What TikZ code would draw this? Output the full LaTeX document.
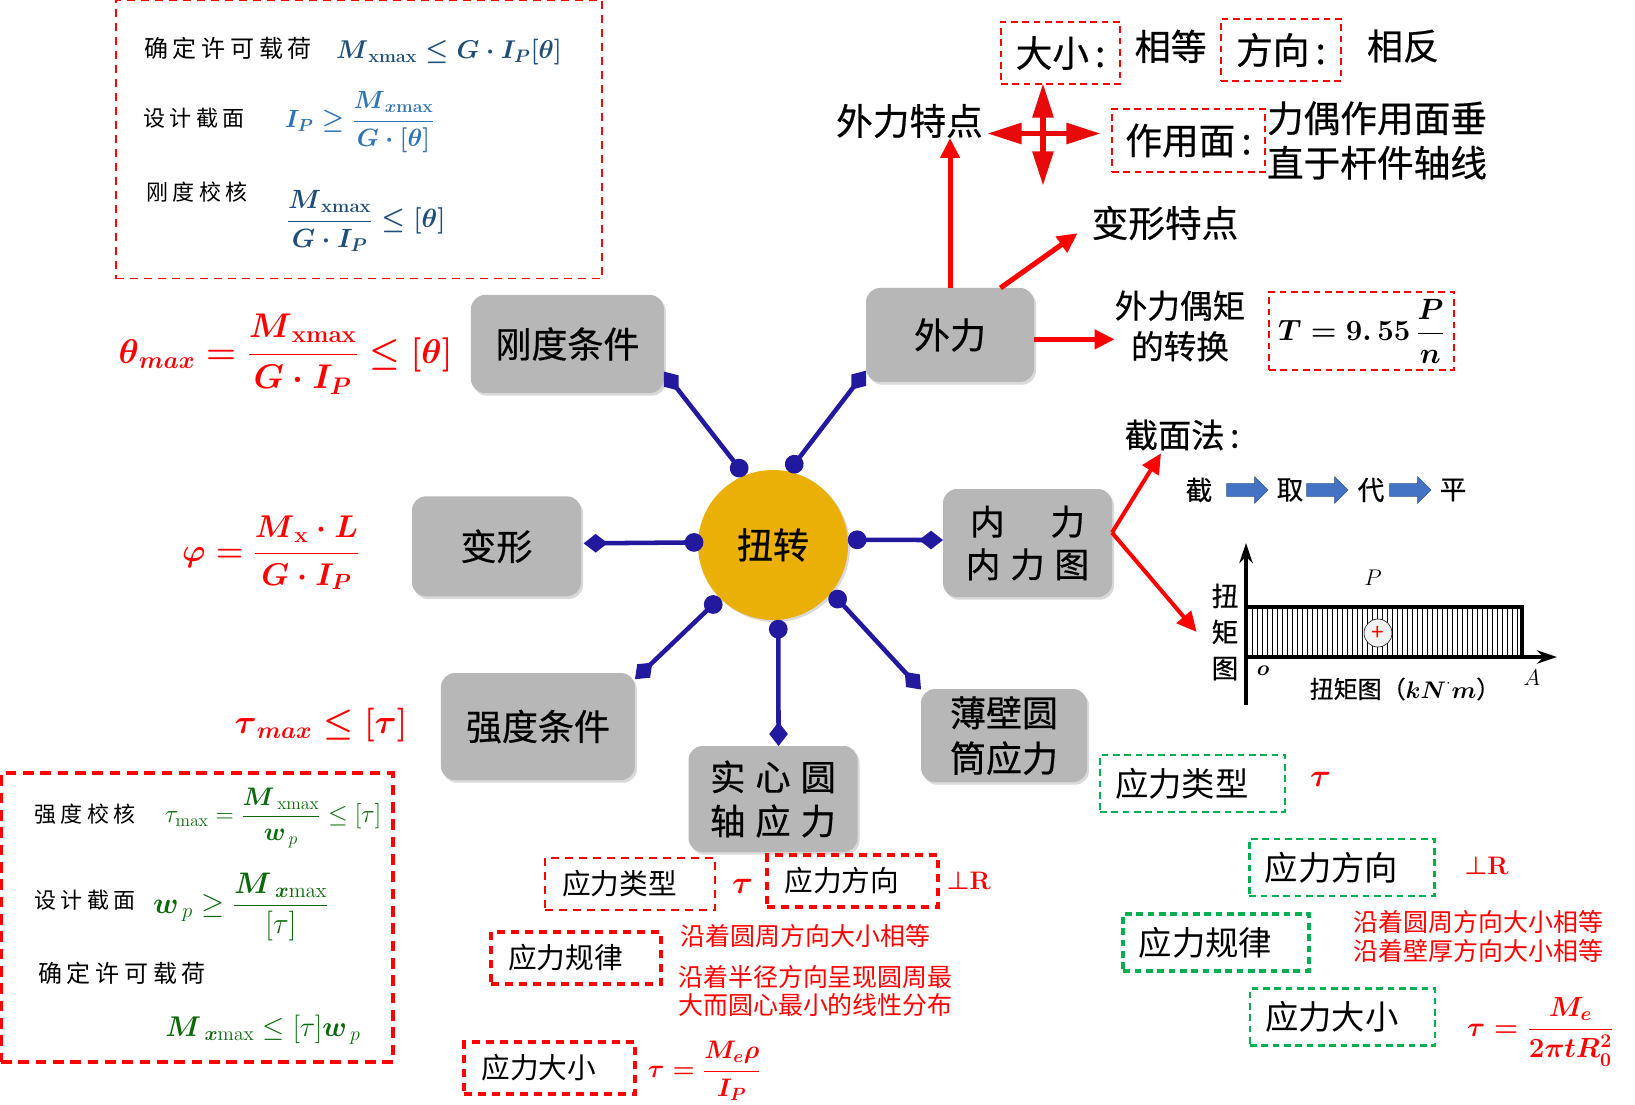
\documentclass[tikz,border=0pt]{standalone}
\usepackage{fix-cm}
\usepackage{amsmath}
\usepackage[no-math]{fontspec}
\setmainfont{Noto Sans CJK SC}
\newfontfamily\heavycjk[FakeBold=0.5]{Noto Sans CJK SC}
\newfontfamily\widecjk[LetterSpace=20]{Noto Sans CJK SC}
\newfontfamily\widerbox[LetterSpace=28,FakeBold=0.5]{Noto Sans CJK SC}
\usepackage{xcolor}
\usetikzlibrary{shapes.arrows, arrows.meta, positioning, calc, shadows}
\definecolor{hubgold}{RGB}{234,176,8}
\definecolor{boxgray}{RGB}{183,183,183}
\definecolor{spokeblue}{RGB}{35,25,158}
\definecolor{topblue}{RGB}{31,78,121}
\definecolor{midblue}{RGB}{46,117,182}
\definecolor{formgreen}{RGB}{10,105,10}
\definecolor{dashgreen}{RGB}{0,176,80}
\definecolor{crossred}{RGB}{232,10,10}
\definecolor{tipblue}{RGB}{68,114,196}
\definecolor{tipedge}{RGB}{47,82,143}
\newcommand{\bv}[1]{\boldsymbol{#1}}
\newcommand{\xmax}{\mathrm{xmax}}
\newcommand{\heavyfont}[2]{\fontsize{#1}{#2}\selectfont\heavycjk}
\newcommand{\mathfont}[1]{\fontsize{#1}{30}\selectfont\boldmath}
\newcommand{\lpad}{\hspace*{16pt}}
\tikzset{
  hubnode/.style={circle, fill=hubgold, minimum size=112.5pt, inner sep=0pt, outer sep=0pt,
    font=\heavyfont{27}{32}, drop shadow={shadow xshift=1.5pt, shadow yshift=-1.5pt, opacity=0.3}},
  mainbox/.style={rectangle, fill=boxgray, rounded corners=10.5pt, inner sep=0pt, outer sep=0pt,
    align=center, font=\heavyfont{27}{33}, drop shadow={shadow xshift=1.5pt, shadow yshift=-2pt, opacity=0.3}},
  spoke/.style={{Circle[length=14pt,width=14pt]}-{Diamond[length=18pt,width=14pt]}, line width=3.4pt, color=spokeblue},
  redarrow/.style={-{Triangle[length=15pt,width=14pt]}, line width=3.8pt, color=red},
  crossarrow/.style={{Triangle[length=26pt,width=15pt]}-{Triangle[length=26pt,width=15pt]}, line width=4.4pt, color=crossred},
  redbox/.style={rectangle, draw=red, dash pattern=on 6pt off 4.5pt, line width=2pt, inner sep=0pt, outer sep=0pt,
    font=\fontsize{21.5}{26}\selectfont},
  thinbox/.style={redbox, line width=1.5pt, dash pattern=on 5pt off 3.5pt, font=\heavyfont{27.5}{34}},
  greenbox/.style={rectangle, draw=dashgreen, dash pattern=on 5pt off 3.5pt, line width=1.8pt, inner sep=0pt, outer sep=0pt,
    minimum width=139pt, minimum height=42.75pt, font=\fontsize{25}{30}\selectfont},
  label/.style={inner sep=0pt, outer sep=0pt, align=center, font=\heavyfont{27.5}{34}},
  smalllabel/.style={label, font=\fontsize{18}{21.5}\selectfont\widecjk},
  redtext/.style={label, text=red, font=\fontsize{18.7}{21.7}\selectfont},
  redmath/.style={label, text=red, font=\mathfont{22}},
  blockarrow/.style={single arrow, draw=tipedge, fill=tipblue, minimum width=20pt, minimum height=31pt,
    single arrow head extend=5pt, single arrow head indent=0pt, inner xsep=0pt, inner ysep=4.5pt, outer sep=0pt}
}
\begin{document}
\begin{tikzpicture}[x=0.75pt, y=-0.75pt]
  \useasboundingbox (0,0) rectangle (1635,1104);

  \node[hubnode] (hub) at (773,545) {扭转};
  \node[mainbox, minimum width=144.75pt, minimum height=73.5pt, above left=74.25pt and 42pt of hub] (stiff) {刚度条件};
  \node[mainbox, minimum width=126pt, minimum height=70.5pt, above right=82.5pt and 30pt of hub] (force) {外力};
  \node[mainbox, minimum width=126.75pt, minimum height=75pt, left=87.75pt of hub, yshift=-1pt] (deform) {变形};
  \node[mainbox, minimum width=126.75pt, minimum height=81pt, right=71.25pt of hub, yshift=1.5pt, font=\fontsize{26}{32}\selectfont\widerbox] (inner) {内\hspace{1.32em}力\\内力图};
  \node[mainbox, minimum width=145.5pt, minimum height=80.25pt, below left=56.25pt and 63.75pt of hub] (strength) {强度条件};
  \node[mainbox, minimum width=126.75pt, minimum height=79.5pt, below=94.5pt of hub, font=\fontsize{26.5}{33}\selectfont\widerbox] (solid) {实心圆\\轴应力};
  \node[mainbox, minimum width=124.5pt, minimum height=69.75pt, below right=68.25pt and 71.25pt of hub, font=\heavyfont{27}{34}] (thin) {薄壁圆\\筒应力};

  \draw[spoke] (hub.112) -- (stiff.-16);
  \draw[spoke] (hub.78) -- (force.203);
  \draw[spoke, shorten <=-4pt, shorten >=2pt] (hub.178) -- (deform.2);
  \draw[spoke] (hub.4) -- (inner.178);
  \draw[spoke] (hub.225) -- (strength.26);
  \draw[spoke] (hub.-86) -- (solid.84);
  \draw[spoke] (hub.-39) -- (thin.151);

  \node[redbox, line width=1.1pt, minimum width=364.5pt, minimum height=209pt, anchor=north west] (stiffbox) at (116,0) {};
  \node[smalllabel, font=\fontsize{18}{21}\selectfont\widecjk] (allowA) at (228,48) {确定许可载荷};
  \node[label, text=topblue, font=\mathfont{19.3}] (stiffA) at (449,52) {$\bv{M}_{\xmax}\le\bv{G}\cdot\bv{I_P}[\bv{\theta}]$};
  \node[smalllabel, font=\fontsize{16.5}{20}\selectfont\widecjk] (designA) at (194,118) {设计截面};
  \node[label, text=midblue, font=\mathfont{18.7}] (stiffB) at (360,122) {$\displaystyle\bv{I_P}\ge\frac{\bv{M}_{\bv{x}\mathrm{max}}}{\bv{G}\cdot[\bv{\theta}]}$};
  \node[smalllabel, font=\fontsize{16.5}{20}\selectfont\widecjk] (checkA) at (197,192) {刚度校核};
  \node[label, text=topblue, font=\mathfont{19.8}] (stiffC) at (366,221) {$\displaystyle\frac{\bv{M}_{\xmax}}{\bv{G}\cdot\bv{I_P}}\le[\bv{\theta}]$};

  \node[redmath, font=\mathfont{25.7}] (thetamax) at (285.5,354) {$\displaystyle\bv{\theta}_{\bv{max}}=\frac{\bv{M}_{\xmax}}{\bv{G}\cdot\bv{I_P}}\le[\bv{\theta}]$};
  \node[redmath, font=\mathfont{23.6}] (phiform) at (271,553) {$\displaystyle\bv{\varphi}=\frac{\bv{M}_{\mathrm{x}}\cdot\bv{L}}{\bv{G}\cdot\bv{I_P}}$};
  \node[redmath, font=\mathfont{25.3}] (taumax) at (321,725) {$\bv{\tau}_{\bv{max}}\le[\bv{\tau}]$};

  \node[redbox, line width=2.8pt, dash pattern=on 8pt off 5pt, minimum width=294pt, minimum height=216.5pt] (strbox) at (197,917.5) {};
  \node[smalllabel, font=\fontsize{16.5}{20}\selectfont\widecjk] (checkB) at (85,814) {强度校核};
  \node[label, text=formgreen, font=\fontsize{19}{22}\selectfont] (strA) at (273,818) {$\displaystyle\tau_{\mathrm{max}}=\frac{\bv{M}_{\,\mathrm{xmax}}}{\bv{w}_{\,p}}\le[\tau]$};
  \node[smalllabel, font=\fontsize{16.5}{20}\selectfont\widecjk] (designB) at (85,900) {设计截面};
  \node[label, text=formgreen, font=\fontsize{22.3}{28}\selectfont] (strB) at (241,907) {$\displaystyle\bv{w}_{\,p}\ge\frac{\bv{M}_{\,\bv{x}\mathrm{max}}}{[\tau]}$};
  \node[smalllabel, font=\fontsize{18}{21}\selectfont\widecjk] (allowB) at (122,973) {确定许可载荷};
  \node[label, text=formgreen, font=\fontsize{21.4}{26}\selectfont] (strC) at (263,1030) {$\bv{M}_{\,\bv{x}\mathrm{max}}\le[\tau]\bv{w}_{\,p}$};

  \coordinate (crossL) at (987,133.5);
  \coordinate (crossR) at (1101,133.5);
  \coordinate (crossT) at (1043,83);
  \coordinate (crossB) at (1043,186);
  \draw[crossarrow] (crossL) -- (crossR);
  \draw[crossarrow] (crossT) -- (crossB);

  \node[label] (forcefeat) at (909.5,121) {外力特点};
  \node[thinbox, minimum width=89.25pt, minimum height=46.5pt] (size) at (1060.5,53) {大小\,:};
  \node[label, font=\heavyfont{27}{33}, right=11pt of size, yshift=5pt] (equal) {相等};
  \node[thinbox, minimum width=90pt, minimum height=46.5pt] (direct) at (1281,50) {方向\,:};
  \node[label, font=\heavyfont{27}{33}, right=19.5pt of direct, yshift=3pt] (oppos) {相反};
  \node[thinbox, minimum width=114.75pt, minimum height=47.25pt] (plane) at (1188.5,140.5) {作用面\,:};
  \node[label, font=\heavyfont{27.5}{33.5}, right=1.5pt of plane] (planetext) {力偶作用面垂\\直于杆件轴线};
  \node[label] (deffeat) at (1165,223) {变形特点};
  \node[label, font=\heavyfont{24.5}{30.5}] (torque) at (1180,326) {外力偶矩\\的转换};
  \node[thinbox, minimum width=138.75pt, minimum height=58.5pt, font=\mathfont{22}] (speed) at (1361.5,331) {$\bv{T}=9.\,55\,\dfrac{\bv{P}}{\bv{n}}$};

  \draw[redarrow] (force.north) -- (force.north |- forcefeat.south);
  \draw[redarrow] (force.43) -- ($(deffeat.south west)+(-14,-7)$);
  \draw[redarrow] (force.-3) -- (force.-3 -| torque.west);

  \node[label, font=\heavyfont{25}{30}] (section) at (1182,435) {截面法\,:};
  \node[label, font=\heavyfont{20}{24}] (stepA) at (1199,490) {截};
  \node[blockarrow] (goA) at (1244,490) {};
  \node[label, font=\heavyfont{20}{24}] (stepB) at (1290,490) {取};
  \node[blockarrow] (goB) at (1324,490) {};
  \node[label, font=\heavyfont{20}{24}] (stepC) at (1371,490) {代};
  \node[blockarrow] (goC) at (1407,490) {};
  \node[label, font=\heavyfont{20}{24}] (stepD) at (1453,490) {平};

  \node[label, font=\heavyfont{20}{27}] (tqlabel) at (1225,632) {扭\\矩\\图};
  \draw[redarrow, line width=3pt] (inner.7) -- ($(section.south)+(-21,3)$);
  \draw[redarrow, line width=3pt] (inner.7) -- ($(tqlabel.west)+(-15,0)$);

  \coordinate (tqo) at (1246,657);
  \coordinate (tqa) at (1522,607);
  \coordinate (tqbot) at (1246,705);
  \coordinate (tqtop) at (1246,543);
  \coordinate (tqend) at (1557,657);
  \foreach \hx in {1252,1257,...,1518} {
    \draw[line width=0.6pt] (\hx,607) -- (\hx,657);
  }
  \draw[line width=3.4pt] (tqo) rectangle (tqa);
  \draw[-{Stealth[length=15pt,width=10pt]}, line width=3pt] (tqbot) -- (tqtop);
  \draw[-{Stealth[length=15pt,width=10pt]}, line width=3pt] (tqo) -- (tqend);
  \node[circle, draw, fill=gray!10, minimum size=21pt, inner sep=0pt, text=red, font=\fontsize{17}{17}\selectfont] (plus) at (1378,633) {+};
  \node[label, font=\fontsize{17}{20}\selectfont] (ptP) at (1373,578) {$P$};
  \node[label, font=\fontsize{16}{20}\selectfont] (pto) at (1263,671) {$\bv{o}$};
  \node[label, font=\fontsize{17}{20}\selectfont] (ptA) at (1532,678) {$A$};
  \node[label, font=\heavyfont{18}{22}] (tqtitle) at (1405,689) {扭矩图（$\bv{kN}^{\cdot}\bv{m}$）};

  \node[greenbox] (typeG) at (1192.5,783.5) {应力类型\lpad};
  \node[redmath, font=\mathfont{24}, right=18.75pt of typeG, yshift=3pt] (tauG) {$\bv{\tau}$};
  \node[greenbox] (dirG) at (1342,867.5) {应力方向\lpad};
  \node[redmath, font=\mathfont{19}, right=22.5pt of dirG, yshift=1pt] (perpG) {$\mathord{\perp}\mathrm{R}$};
  \node[greenbox, line width=2.8pt] (lawG) at (1216,942.5) {应力规律\lpad};
  \node[redtext] (lawGtext) at (1478.5,936.5) {沿着圆周方向大小相等\\沿着壁厚方向大小相等};
  \node[greenbox] (magG) at (1342.5,1017) {应力大小\lpad};
  \node[redmath, font=\mathfont{20.8}, right=24pt of magG, yshift=-11pt] (magGform) {$\bv{\tau}=\dfrac{\bv{M_e}}{\bv{2\pi t R_0^2}}$};

  \node[redbox, minimum width=127.5pt, minimum height=39pt] (typeR) at (630,884) {应力类型\lpad};
  \node[redmath, font=\mathfont{24}, right=12.75pt of typeR, yshift=-2pt] (tauR) {$\bv{\tau}$};
  \node[redbox, line width=2.8pt, minimum width=128pt, minimum height=39pt] (dirR) at (852.5,881) {应力方向\lpad};
  \node[redmath, font=\mathfont{19}, right=6.75pt of dirR] (perpR) {$\mathord{\perp}\mathrm{R}$};
  \node[redbox, line width=2.8pt, minimum width=127.5pt, minimum height=39pt] (lawR) at (576,958) {应力规律\lpad};
  \node[redtext] (lawRa) at (805.5,936) {沿着圆周方向大小相等};
  \node[redtext] (lawRb) at (815.5,991) {沿着半径方向呈现圆周最\\大而圆心最小的线性分布};
  \node[redbox, line width=2.8pt, minimum width=128pt, minimum height=39pt] (magR) at (549.5,1068) {应力大小\lpad};
  \node[redmath, font=\mathfont{19}, right=9.75pt of magR, yshift=-2pt] (magRform) {$\bv{\tau}=\dfrac{\bv{M_e\rho}}{\bv{I_P}}$};
\end{tikzpicture}
\end{document}
